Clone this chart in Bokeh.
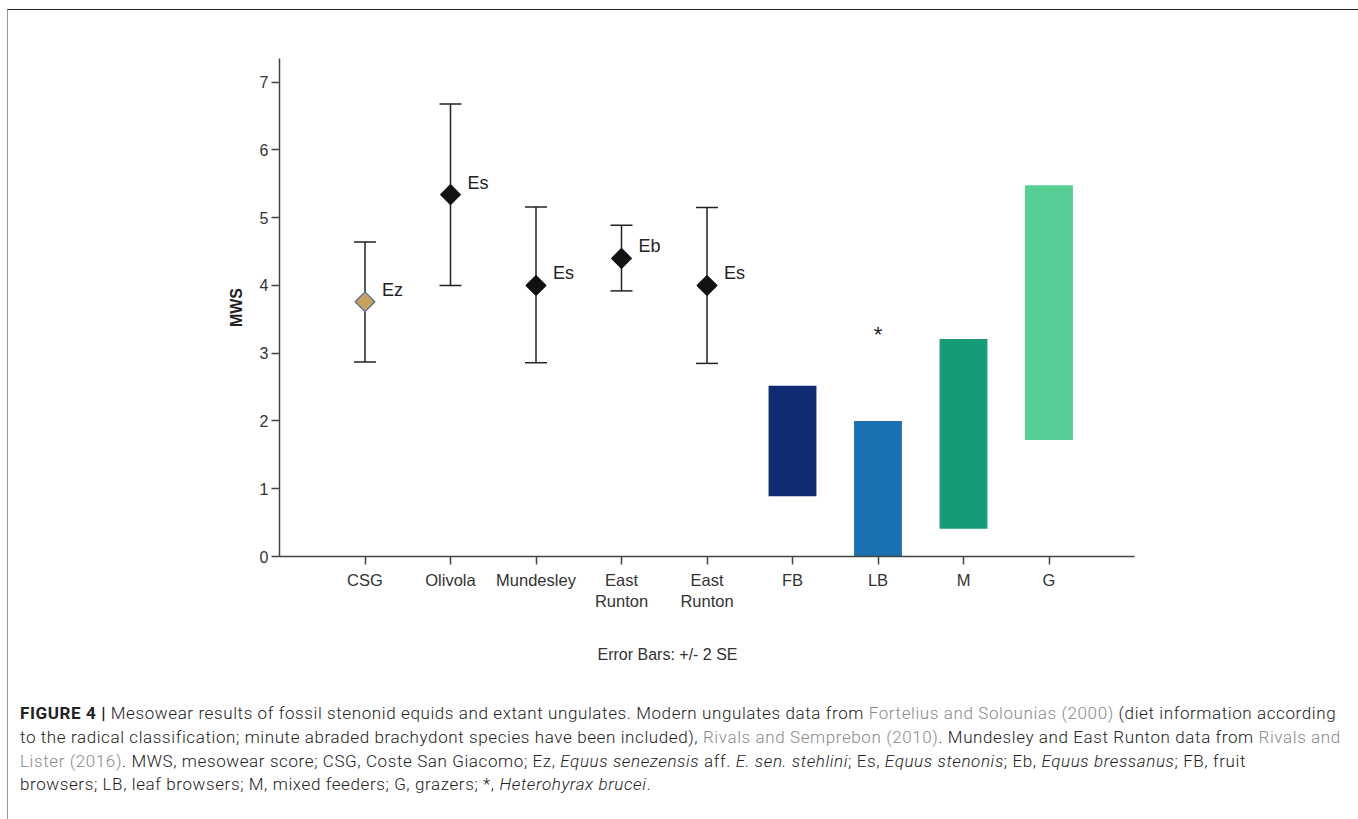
from bokeh.plotting import figure
from bokeh.models import Range1d, FixedTicker, Div, ColumnDataSource, Whisker, TeeHead, Title
from bokeh.layouts import column
from bokeh.embed import file_html
from bokeh.resources import INLINE
from bokeh.core.properties import value
import numpy as np

# ---- data ----
categories = ["CSG", "Olivola", "Mundesley", "East\nRunton", "East\nRunton", "FB", "LB", "M", "G"]
cat_pos = [1, 2, 3, 4, 5, 6, 7, 8, 9]

site_pos = [1, 2, 3, 4, 5]
site_mean = [3.76, 5.34, 4.00, 4.40, 4.00]
site_lower = [2.87, 4.00, 2.86, 3.92, 2.85]
site_upper = [4.64, 6.68, 5.16, 4.89, 5.15]
site_taxon = ["Ez", "Es", "Es", "Eb", "Es"]
site_fill = ["#c9a25e", "#111111", "#111111", "#111111", "#111111"]
site_line = ["#4d6a9a", "#111111", "#111111", "#111111", "#111111"]

diet_pos = [6, 7, 8, 9]
diet_bottom = [0.89, 0.00, 0.41, 1.72]
diet_top = [2.52, 2.00, 3.21, 5.48]
diet_color = ["#112b72", "#1a70b0", "#169b78", "#55cf93"]

star_pos = [7]
star_val = [3.27]
star_text = ["*"]

y_ticks = [0, 1, 2, 3, 4, 5, 6, 7]

FONT = "Liberation Sans"

p = figure(width=1346, height=682, x_range=Range1d(0, 10), y_range=Range1d(0, 7.35),
           output_backend="svg", toolbar_location=None, tools="",
           min_border_left=271, min_border_right=220, min_border_top=48, min_border_bottom=130)
p.outline_line_color = None
p.xgrid.grid_line_color = None
p.ygrid.grid_line_color = None
p.background_fill_color = "white"
p.border_fill_color = "white"

for ax in (p.xaxis[0], p.yaxis[0]):
    ax.axis_line_color = "#444444"
    ax.axis_line_width = 1.5
    ax.major_tick_line_color = "#444444"
    ax.major_tick_line_width = 1.5
    ax.major_tick_out = 8
    ax.major_tick_in = 0
    ax.minor_tick_line_color = None
    ax.major_label_text_font = FONT
    ax.major_label_text_color = "#333333"

p.xaxis.ticker = FixedTicker(ticks=cat_pos)
p.xaxis.major_label_overrides = {c: t for c, t in zip(cat_pos, categories)}
p.xaxis.major_label_text_font_size = "16.5px"
p.xaxis.major_label_standoff = 6

p.yaxis.ticker = FixedTicker(ticks=y_ticks)
p.yaxis.major_label_text_font_size = "16px"
p.yaxis.major_label_standoff = 3
p.yaxis.axis_label = "MWS"
p.yaxis.axis_label_text_font = FONT
p.yaxis.axis_label_text_font_style = "bold"
p.yaxis.axis_label_text_font_size = "16px"
p.yaxis.axis_label_text_color = "#222222"
p.yaxis.axis_label_standoff = 12

# diet bars
p.vbar(x=diet_pos, width=0.56, bottom=diet_bottom, top=diet_top,
       fill_color=diet_color, line_color=None)

# error bars
src = ColumnDataSource(dict(x=site_pos, lower=site_lower, upper=site_upper))
wh = Whisker(base="x", lower="lower", upper="upper", source=src, dimension="height",
             line_color="#222222", line_width=1.5,
             upper_head=TeeHead(size=22, line_color="#222222", line_width=1.5),
             lower_head=TeeHead(size=22, line_color="#222222", line_width=1.5))
p.add_layout(wh)

# means
p.scatter(x=site_pos, y=site_mean, marker="square", angle=np.pi / 4, size=14,
          fill_color=site_fill, line_color=site_line, line_width=1.2)

p.text(x=site_pos, y=site_mean, text=site_taxon, x_offset=17, y_offset=-12,
       text_align="left", text_baseline="middle", text_font=value(FONT),
       text_font_size="18px", text_color="#222222")

p.text(x=star_pos, y=star_val, text=star_text, text_align="center", text_baseline="middle",
       text_font=value(FONT), text_font_size="22px", text_color="#222222")

p.add_layout(Title(text="Error Bars: +/- 2 SE", align="left", offset=318, standoff=60,
                   text_font=FONT, text_font_size="16px", text_font_style="normal",
                   text_color="#333333"), "below")

g = "color:#8a8a8a"
caption_html = (
    '<div style="font-family:Roboto, sans-serif; font-weight:300; font-size:17px; line-height:23.8px;'
    ' letter-spacing:0.6px; color:#222; white-space:nowrap; padding:5px 0 16px 7px;">'
    '<b style="font-weight:700">FIGURE 4 |</b> Mesowear results of fossil stenonid equids and extant ungulates. Modern ungulates data from '
    f'<span style="{g}">Fortelius and Solounias (2000)</span> (diet information according<br>'
    'to the radical classification; minute abraded brachydont species have been included), '
    f'<span style="{g}">Rivals and Semprebon (2010)</span>. Mundesley and East Runton data from '
    f'<span style="{g}">Rivals and</span><br>'
    f'<span style="{g}">Lister (2016)</span>. MWS, mesowear score; CSG, Coste San Giacomo; Ez, '
    '<i>Equus senezensis</i> aff. <i>E. sen. stehlini</i>; Es, <i>Equus stenonis</i>; Eb, '
    '<i>Equus bressanus</i>; FB, fruit<br>'
    'browsers; LB, leaf browsers; M, mixed feeders; G, grazers; *, <i>Heterohyrax brucei</i>.'
    '</div>'
)
cap = Div(text=caption_html, width=1346, height=119)

layout = column(p, cap, spacing=0, margin=(9, 0, 0, 7),
                styles={"border": "1px solid #999999", "border-top": "1px solid #222222"})

open("out.html", "w").write(file_html(layout, INLINE))
